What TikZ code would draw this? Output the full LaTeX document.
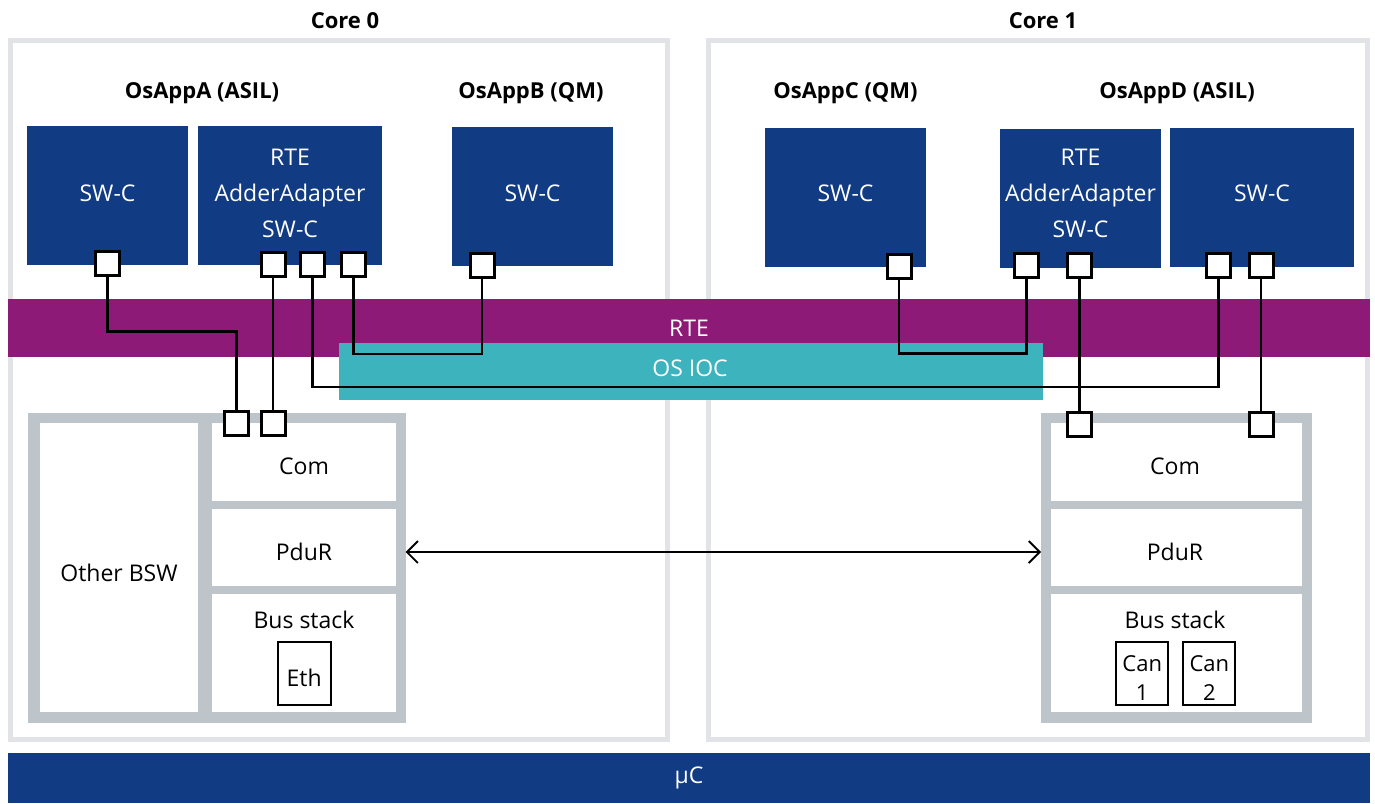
\documentclass[tikz,border=0pt]{standalone}
\usepackage{fontspec}
\setmainfont{Open Sans}
\usetikzlibrary{arrows.meta}
\definecolor{dblue}{HTML}{113B82}
\definecolor{rtemag}{HTML}{8E1A78}
\definecolor{ioccol}{HTML}{3DB3BD}
\definecolor{bswgray}{HTML}{BDC4CA}
\definecolor{coregray}{HTML}{E1E3E6}
\begin{document}
\begin{tikzpicture}[x=1pt,y=-1pt,
  every node/.style={inner sep=0pt, outer sep=0pt, font=\fontsize{23}{28}\selectfont},
  ttl/.style={font=\fontsize{22}{27}\selectfont\bfseries},
  corebox/.style={draw=coregray, line width=5pt, fill=white},
  bar/.style={text=white},
  swc/.style={fill=dblue, text=white, align=center, minimum height=139pt},
  bswframe/.style={fill=bswgray, minimum height=310pt},
  bswcell/.style={fill=white},
  port/.style={draw=black, fill=white, line width=3pt, minimum width=24pt, minimum height=24pt},
  wire/.style={draw=black, line width=2.5pt},
  busbox/.style={draw=black, line width=2.2pt, minimum width=52pt, minimum height=63pt},
  arr/.style={line width=1.8pt, {Straight Barb[length=11pt,width=22pt]}-{Straight Barb[length=11pt,width=22pt]}}
]
\useasboundingbox (0,0) rectangle (1375,803);

% cores
\node[corebox, minimum width=657pt, minimum height=699pt] (core0) at (339,390) {};
\node[corebox, minimum width=659.5pt, minimum height=699pt] (core1) at (1037.75,390) {};
\node[ttl] (core0t) at (345,21) {Core 0};
\node[ttl] (core1t) at (1043,21) {Core 1};

% app titles
\node[ttl] (appA) at (202,93) {OsAppA (ASIL)};
\node[ttl] (appB) at (531,93) {OsAppB (QM)};
\node[ttl] (appC) at (845.5,93) {OsAppC (QM)};
\node[ttl] (appD) at (1177,93) {OsAppD (ASIL)};

% bars
\node[bar, fill=rtemag, minimum width=1362pt, minimum height=57.7pt] (rte) at (689,327.85) {RTE};
\node[bar, fill=ioccol, minimum width=703.7pt, minimum height=57.3pt] (ioc) at (690.85,371.35) {};
\node[text=white] (ioct) at (690,368) {OS IOC};
\node[bar, fill=dblue, minimum width=1362pt, minimum height=50.3pt] (uc) at (689,777.85) {µC};

% SW-Cs
\node[swc, minimum width=161pt] (swA1) at (107.5,195.5) {};
\node[text=white] (swA1t) at (107.5,193) {SW-C};
\node[swc, minimum width=184pt] (swA2) at (290,195.5) {};
\node[text=white, align=center, font=\fontsize{23}{36}\selectfont] (swA2t) at (290,193) {RTE\\AdderAdapter\\SW-C};
\node[swc, minimum width=161pt] (swB) at (532.5,196.5) {};
\node[text=white] (swBt) at (532.5,193) {SW-C};
\node[swc, minimum width=161pt] (swC) at (845.5,197.5) {};
\node[text=white] (swCt) at (845.5,193) {SW-C};
\node[swc, minimum width=161pt] (swD1) at (1080.5,198) {};
\node[text=white, align=center, font=\fontsize{23}{36}\selectfont] (swD1t) at (1080.5,193) {RTE\\AdderAdapter\\SW-C};
\node[swc, minimum width=184pt] (swD2) at (1262,197.5) {};
\node[text=white] (swD2t) at (1262,193) {SW-C};

% BSW left
\node[bswframe, minimum width=377.7pt] (bswL) at (216.85,568.3) {};
\node[bswcell, minimum width=158pt, minimum height=288.4pt] (otherL) at (119,567.5) {};
\node[bswcell, minimum width=184pt, minimum height=77.4pt] (comL) at (304,462) {};
\node[bswcell, minimum width=184pt, minimum height=76.7pt] (pdurL) at (304,547.35) {};
\node[bswcell, minimum width=184pt, minimum height=117.7pt] (busL) at (304,652.85) {};
\node (otherLt) at (119,573) {Other BSW};
\node (comLt) at (304,466) {Com};
\node (pdurLt) at (304,552) {PduR};
\node (busLt) at (304,620) {Bus stack};
\node[busbox, minimum width=53pt] (eth) at (304.2,673.35) {};
\node (etht) at (304.2,678) {Eth};

% BSW right
\node[bswframe, minimum width=270.7pt] (bswR) at (1176.35,568.3) {};
\node[bswcell, minimum width=250.7pt, minimum height=77.4pt] (comR) at (1176.35,462) {};
\node[bswcell, minimum width=250.7pt, minimum height=76.7pt] (pdurR) at (1176.35,547.35) {};
\node[bswcell, minimum width=250.7pt, minimum height=117.7pt] (busR) at (1176.35,652.85) {};
\node (comRt) at (1175,466) {Com};
\node (pdurRt) at (1175,552) {PduR};
\node (busRt) at (1175,620) {Bus stack};
\node[busbox] (can1) at (1142.2,673.35) {};
\node[busbox] (can2) at (1209.35,673.35) {};
\node[align=center, font=\fontsize{22}{29}\selectfont] (can1t) at (1142.2,678) {Can\\1};
\node[align=center, font=\fontsize{22}{29}\selectfont] (can2t) at (1209.35,678) {Can\\2};

% arrow
\draw[arr] (bswL.east |- pdurLt) -- (bswR.west |- pdurRt);

% ports
\node[port] (pA1) at (107.5,263.5) {};
\node[port] (pA2a) at (273,264) {};
\node[port] (pA2b) at (312.7,264.5) {};
\node[port] (pA2c) at (353.7,264.7) {};
\node[port] (pB) at (482,265.3) {};
\node[port] (pC) at (899,266) {};
\node[port] (pD1a) at (1026.3,265.8) {};
\node[port] (pD1b) at (1079.7,265.8) {};
\node[port] (pD2a) at (1218.7,265.8) {};
\node[port] (pD2b) at (1261,265.8) {};
\node[port] (pL1) at (236.7,423.7) {};
\node[port] (pL2) at (273,423.7) {};
\node[port] (pR1) at (1079.7,424.5) {};
\node[port] (pR2) at (1261,424.5) {};

% junctions
\coordinate (j1) at (170,331.7);
\coordinate (j2) at (700,387);
\coordinate (j3) at (420,354);
\coordinate (j4) at (960,353.3);

% wires
\draw[wire] (pA1.south) |- (j1) -| (pL1.north);
\draw[wire] (pA2a.south) -- (pL2.north);
\draw[wire] (pA2b.south) |- (j2) -| (pD2a.south);
\draw[wire] (pA2c.south) |- (j3) -| (pB.south);
\draw[wire] (pC.south) |- (j4) -| (pD1a.south);
\draw[wire] (pD1b.south) -- (pR1.north);
\draw[wire] (pD2b.south) -- (pR2.north);
\end{tikzpicture}
\end{document}
